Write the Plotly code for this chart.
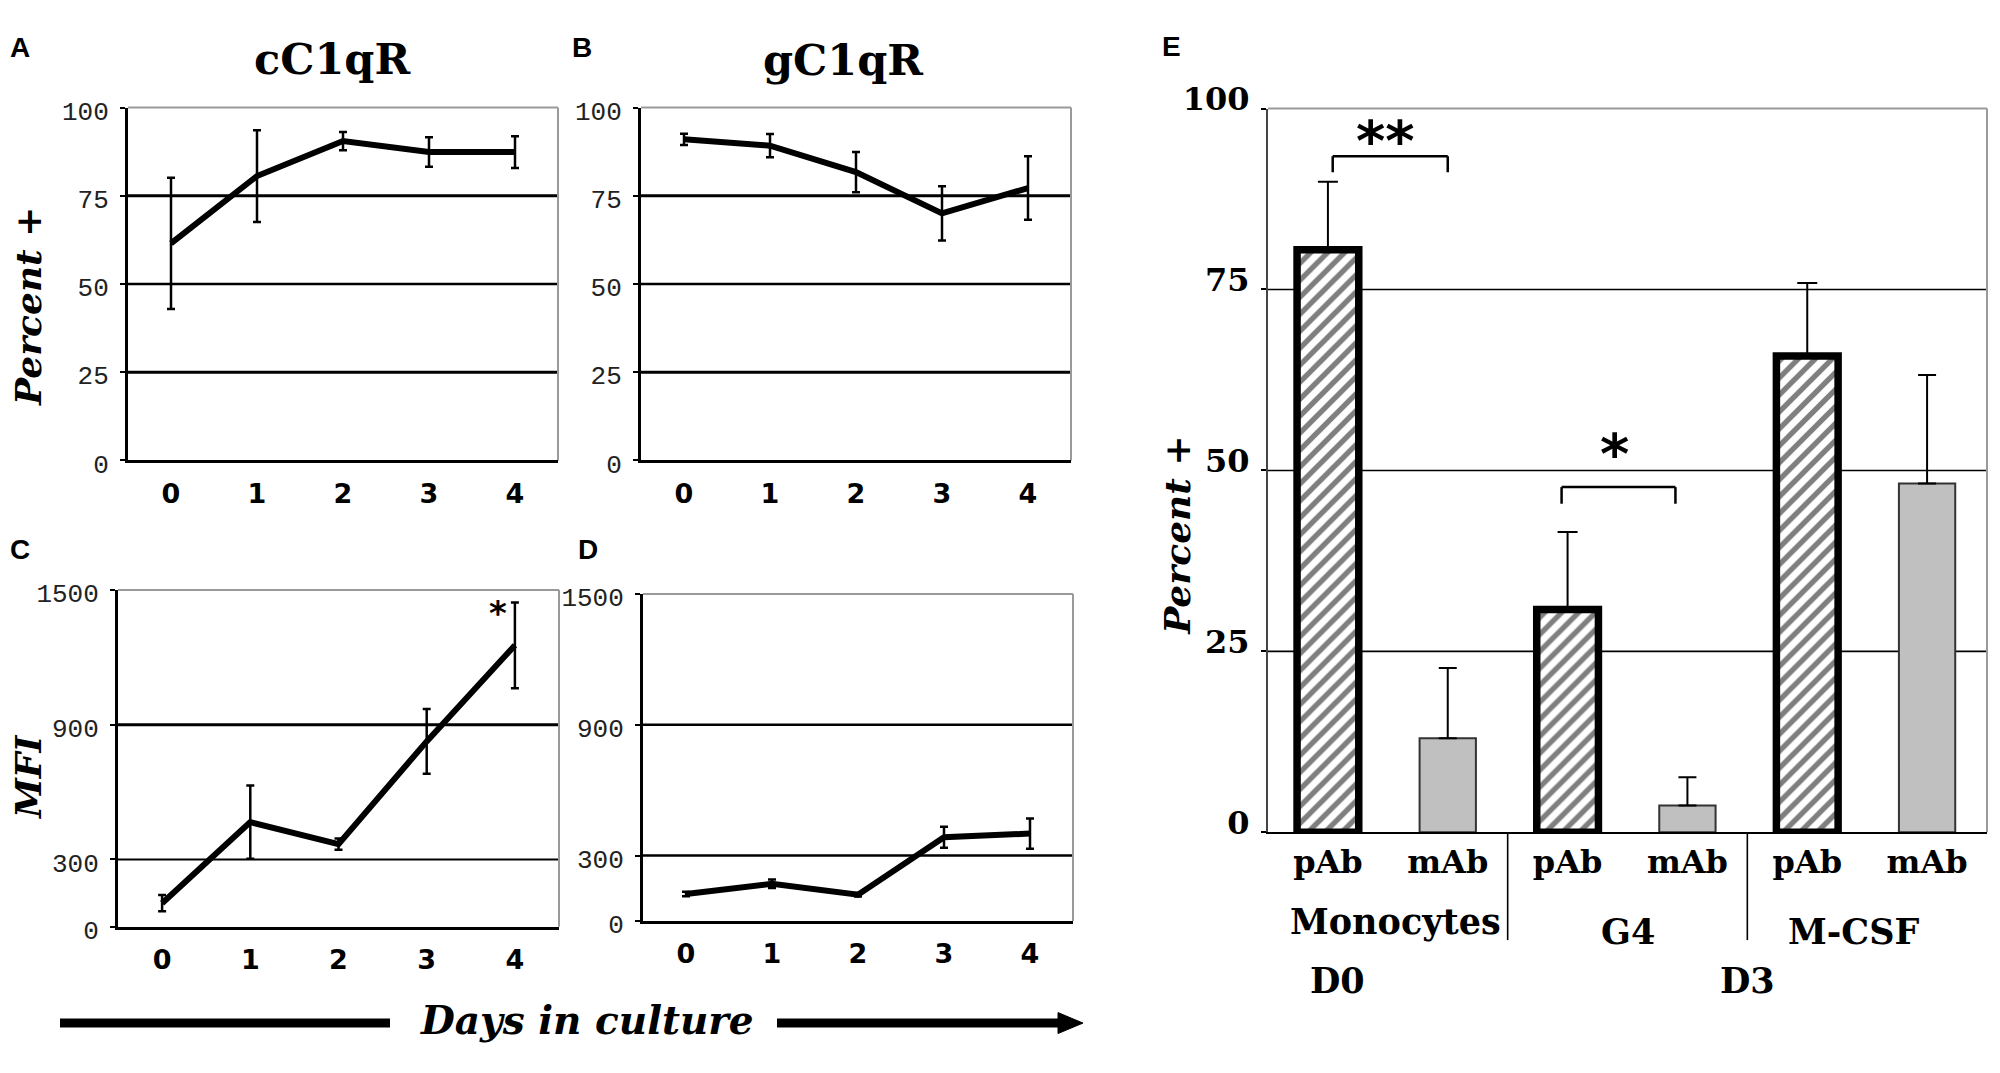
import plotly.graph_objects as go

# ---------------- data ----------------
DAYS = [0, 1, 2, 3, 4]
CC1QR_PCT = [61.5, 80.6, 90.5, 87.4, 87.4]
CC1QR_PCT_ERR = [18.6, 13.0, 2.6, 4.2, 4.5]
GC1QR_PCT = [91.0, 89.2, 81.7, 70.0, 77.2]
GC1QR_PCT_ERR = [1.6, 3.3, 5.7, 7.7, 9.0]
CC1QR_MFI = [105, 466, 368, 826, 1254]
CC1QR_MFI_ERR = [36, 163, 25, 144, 191]
GC1QR_MFI = [124, 171, 121, 384, 401]
GC1QR_MFI_ERR = [10, 20, 8, 48, 69]
PCT_TICKS = [0, 25, 50, 75, 100]
MFI_TICKS = [0, 300, 900, 1500]

GROUPS = ["Monocytes", "G4", "M-CSF"]
ANTIBODIES = ["pAb", "mAb"]
PAB_PCT = [80.5, 30.8, 65.8]
PAB_ERR = [9.4, 10.7, 10.1]
MAB_PCT = [13.0, 3.7, 48.2]
MAB_ERR = [9.7, 3.9, 15.0]
E_TICKS = [0, 25, 50, 75, 100]

# ---------------- geometry helpers (reference pixels -> paper) ----------------
OFF = 8
W, H = 2000 - 2 * OFF, 1073 - 2 * OFF


def px(X):
    return (X - OFF) / W


def py(Y):
    return 1 - (Y - OFF) / H


SERIF = "DejaVu Serif"
MONO = "Liberation Mono"
SANS = "DejaVu Sans"

fig = go.Figure()
shapes = []
annotations = []

line_panels = [
    # x id, y id, data, err, ticks, range, grid(values,widths), box (x0,x1,ytop,ybot)
    ("x", "y", CC1QR_PCT, CC1QR_PCT_ERR, PCT_TICKS, [0, 100], [(25, 3), (50, 2.5), (75, 3)], (128, 558, 82, 452)),
    ("x2", "y2", GC1QR_PCT, GC1QR_PCT_ERR, PCT_TICKS, [0, 100], [(25, 3), (50, 2.5), (75, 3)], (641, 1071, 82, 452)),
    ("x3", "y3", CC1QR_MFI, CC1QR_MFI_ERR, MFI_TICKS, [0, 1500], [(300, 2), (900, 3)], (118, 559, 588, 941)),
    ("x4", "y4", GC1QR_MFI, GC1QR_MFI_ERR, MFI_TICKS, [0, 1500], [(300, 2.5), (900, 2.5)], (643, 1073, 592, 935)),
]

for xa, ya, vals, errs, ticks, yr, grid, box in line_panels:
    x0, x1, yt, yb = box
    fig.add_trace(go.Scatter(
        x=DAYS, y=vals, mode="lines", xaxis=xa, yaxis=ya, showlegend=False,
        line=dict(color="black", width=6),
        error_y=dict(type="data", array=errs, visible=True, color="black", thickness=2.5, width=4),
        cliponaxis=False, hoverinfo="skip"))
    xkey = "xaxis" + xa[1:]
    ykey = "yaxis" + ya[1:]
    fig.layout[xkey] = dict(
        domain=[px(x0), px(x1)], anchor=ya, range=[-0.5, 4.5], tickvals=DAYS,
        showline=True, linecolor="black", linewidth=3, ticks="", showgrid=False, zeroline=False,
        tickfont=dict(family=SANS, size=27, color="black", weight="bold"), ticklabelstandoff=7,
        fixedrange=True)
    fig.layout[ykey] = dict(
        domain=[py(yb), py(yt)], anchor=xa, range=yr, tickvals=ticks,
        showline=True, linecolor="black", linewidth=3, ticks="outside", ticklen=5, tickwidth=2,
        tickcolor="black", showgrid=False, zeroline=False, ticklabelshift=3,
        tickfont=dict(family=MONO, size=26, color="#222"), ticklabelstandoff=6, fixedrange=True)
    for v, w in grid:
        shapes.append(dict(type="line", xref=f"{xa} domain", yref=ya, x0=0, x1=1, y0=v, y1=v,
                           line=dict(color="black", width=w), layer="below"))
    shapes.append(dict(type="line", xref=f"{xa} domain", yref=f"{ya} domain", x0=0, x1=1, y0=1, y1=1,
                       line=dict(color="#9a9a9a", width=2), layer="below"))
    shapes.append(dict(type="line", xref=f"{xa} domain", yref=f"{ya} domain", x0=1, x1=1, y0=0, y1=1,
                       line=dict(color="#9a9a9a", width=2), layer="below"))

# ---------------- panel E (bars) ----------------
def key(g, ab):
    return f"{g} {ab}"


cat_order = [key(g, ab) for g in GROUPS for ab in ANTIBODIES]
cat_text = [ab for g in GROUPS for ab in ANTIBODIES]

fig.add_trace(go.Bar(
    x=[key(g, "pAb") for g in GROUPS], y=PAB_PCT, width=0.515, xaxis="x5", yaxis="y5", showlegend=False,
    marker=dict(color="white", line=dict(color="black", width=7.5),
                pattern=dict(shape="/", fgcolor="black", bgcolor="white", size=12, solidity=0.45)),
    error_y=dict(type="data", symmetric=False, array=PAB_ERR, arrayminus=[0] * len(PAB_ERR),
                 color="black", thickness=2, width=10),
    hoverinfo="skip"))
fig.add_trace(go.Bar(
    x=[key(g, "mAb") for g in GROUPS], y=MAB_PCT, width=0.47, xaxis="x5", yaxis="y5", showlegend=False,
    marker=dict(color="#c0c0c0", line=dict(color="#333333", width=2)),
    error_y=dict(type="data", symmetric=False, array=MAB_ERR, arrayminus=[0] * len(MAB_ERR),
                 color="black", thickness=2, width=9),
    hoverinfo="skip"))

fig.layout["xaxis5"] = dict(
    domain=[px(1268), px(1987)], anchor="y5", type="category", categoryorder="array",
    categoryarray=cat_order, tickvals=cat_order, ticktext=cat_text, range=[-0.5, 5.5],
    showline=True, linecolor="black", linewidth=2, ticks="", showgrid=False, zeroline=False,
    tickfont=dict(family=SERIF, size=32, color="black", weight="bold"), ticklabelstandoff=0,
    fixedrange=True)
fig.layout["yaxis5"] = dict(
    domain=[py(842), py(83)], anchor="x5", range=[0, 100], tickvals=E_TICKS,
    showline=True, linecolor="#444", linewidth=2, ticks="outside", ticklen=5, tickwidth=2,
    tickcolor="black", showgrid=False, zeroline=False, ticklabelshift=-10,
    tickfont=dict(family=SERIF, size=32, color="black", weight="bold"), ticklabelstandoff=5,
    fixedrange=True)
for v in [25, 50, 75]:
    shapes.append(dict(type="line", xref="x5 domain", yref="y5", x0=0, x1=1, y0=v, y1=v,
                       line=dict(color="black", width=1.6), layer="below"))
shapes.append(dict(type="line", xref="x5 domain", yref="y5 domain", x0=0, x1=1, y0=1, y1=1,
                   line=dict(color="#9a9a9a", width=2), layer="below"))
shapes.append(dict(type="line", xref="x5 domain", yref="y5 domain", x0=1, x1=1, y0=0, y1=1,
                   line=dict(color="#9a9a9a", width=2), layer="below"))

# group dividers under the axis
for xi in [1.5, 3.5]:
    shapes.append(dict(type="line", xref="x5", yref="paper", x0=xi, x1=xi, y0=py(842), y1=py(955),
                       line=dict(color="black", width=1.6)))

# significance brackets
for (xl, xr, ytop, yleg) in [(0.04, 1.0, 93.4, 91.2), (1.95, 2.9, 47.7, 45.4)]:
    for (a, b, c, d) in [(xl, ytop, xr, ytop), (xl, ytop, xl, yleg), (xr, ytop, xr, yleg)]:
        shapes.append(dict(type="line", xref="x5", yref="y5", x0=a, y0=b, x1=c, y1=d,
                           line=dict(color="black", width=2.5)))
annotations.append(dict(text="**", xref="x5", yref="y5", x=0.48, y=95.6, showarrow=False,
                        xanchor="center", yanchor="middle",
                        font=dict(family=SANS, size=56, color="black", weight="bold")))
annotations.append(dict(text="*", xref="x5", yref="y5", x=2.39, y=52.3, showarrow=False,
                        xanchor="center", yanchor="middle",
                        font=dict(family=SANS, size=56, color="black", weight="bold")))

# group labels
grp_font = dict(family=SERIF, size=35, color="black", weight="bold")
for text, xi, dx, Y in [(GROUPS[0], 0.5, 8, 936), (GROUPS[1], 2.5, 0, 946), (GROUPS[2], 4.5, -14, 946),
                        ("D0", 0.5, -50, 997), ("D3", 3.5, 0, 997)]:
    annotations.append(dict(text=text, xref="x5", yref="paper", x=xi, xshift=dx, y=py(Y), showarrow=False,
                            xanchor="center", yanchor="middle", font=grp_font))

# star in panel C
annotations.append(dict(text="*", xref="x3", yref="y3", x=4, y=1400, xshift=-17, showarrow=False,
                        xanchor="center", yanchor="middle",
                        font=dict(family=SANS, size=34, color="black", weight="bold")))

# ---------------- titles / labels ----------------
letter_font = dict(family="Liberation Sans", size=28, color="black", weight="bold")
for t, X, Y in [("A", 20, 19), ("B", 582, 19), ("C", 20, 545), ("D", 588, 545), ("E", 1171, 18)]:
    annotations.append(dict(text=t, xref="paper", yref="paper", x=px(X), y=py(Y), showarrow=False,
                            xanchor="center", yanchor="middle", font=letter_font))

title_font = dict(family=SERIF, size=43, color="black", weight="bold")
annotations.append(dict(text="cC1qR", xref="paper", yref="paper", x=px(332), y=py(31), showarrow=False,
                        xanchor="center", yanchor="middle", font=title_font))
annotations.append(dict(text="gC1qR", xref="paper", yref="paper", x=px(843), y=py(32), showarrow=False,
                        xanchor="center", yanchor="middle", font=title_font))

axt_font = dict(family=SERIF, size=36, color="black", weight="bold", style="italic")
annotations.append(dict(text="Percent +", xref="paper", yref="paper", x=px(28), y=py(291), textangle=-90,
                        showarrow=False, xanchor="center", yanchor="middle", font=axt_font))
annotations.append(dict(text="MFI", xref="paper", yref="paper", x=px(28), y=py(785), textangle=-90,
                        showarrow=False, xanchor="center", yanchor="middle", font=axt_font))
annotations.append(dict(text="Percent +", xref="paper", yref="paper", x=px(1177), y=py(531), textangle=-90,
                        showarrow=False, xanchor="center", yanchor="middle", font=axt_font))
annotations.append(dict(text="Days in culture", xref="paper", yref="paper", x=px(587), y=py(1039),
                        showarrow=False, xanchor="center", yanchor="middle",
                        font=dict(family=SERIF, size=39, color="black", weight="bold", style="italic")))

# arrow of "Days in culture"
shapes.append(dict(type="line", xref="paper", yref="paper", x0=px(60), x1=px(390), y0=py(1042), y1=py(1042),
                   line=dict(color="black", width=9)))
shapes.append(dict(type="line", xref="paper", yref="paper", x0=px(777), x1=px(1062), y0=py(1042), y1=py(1042),
                   line=dict(color="black", width=9)))
shapes.append(dict(type="path", xref="paper", yref="paper",
                   path=f"M {px(1058)} {py(1031)} L {px(1083)} {py(1042)} L {px(1058)} {py(1053)} Z",
                   fillcolor="black", line=dict(color="black", width=1)))

fig.update_layout(
    width=W, height=H, margin=dict(l=0, r=0, t=0, b=0),
    paper_bgcolor="white", plot_bgcolor="white",
    barmode="overlay", showlegend=False,
    shapes=shapes, annotations=annotations,
)

fig.write_html("out.html")
